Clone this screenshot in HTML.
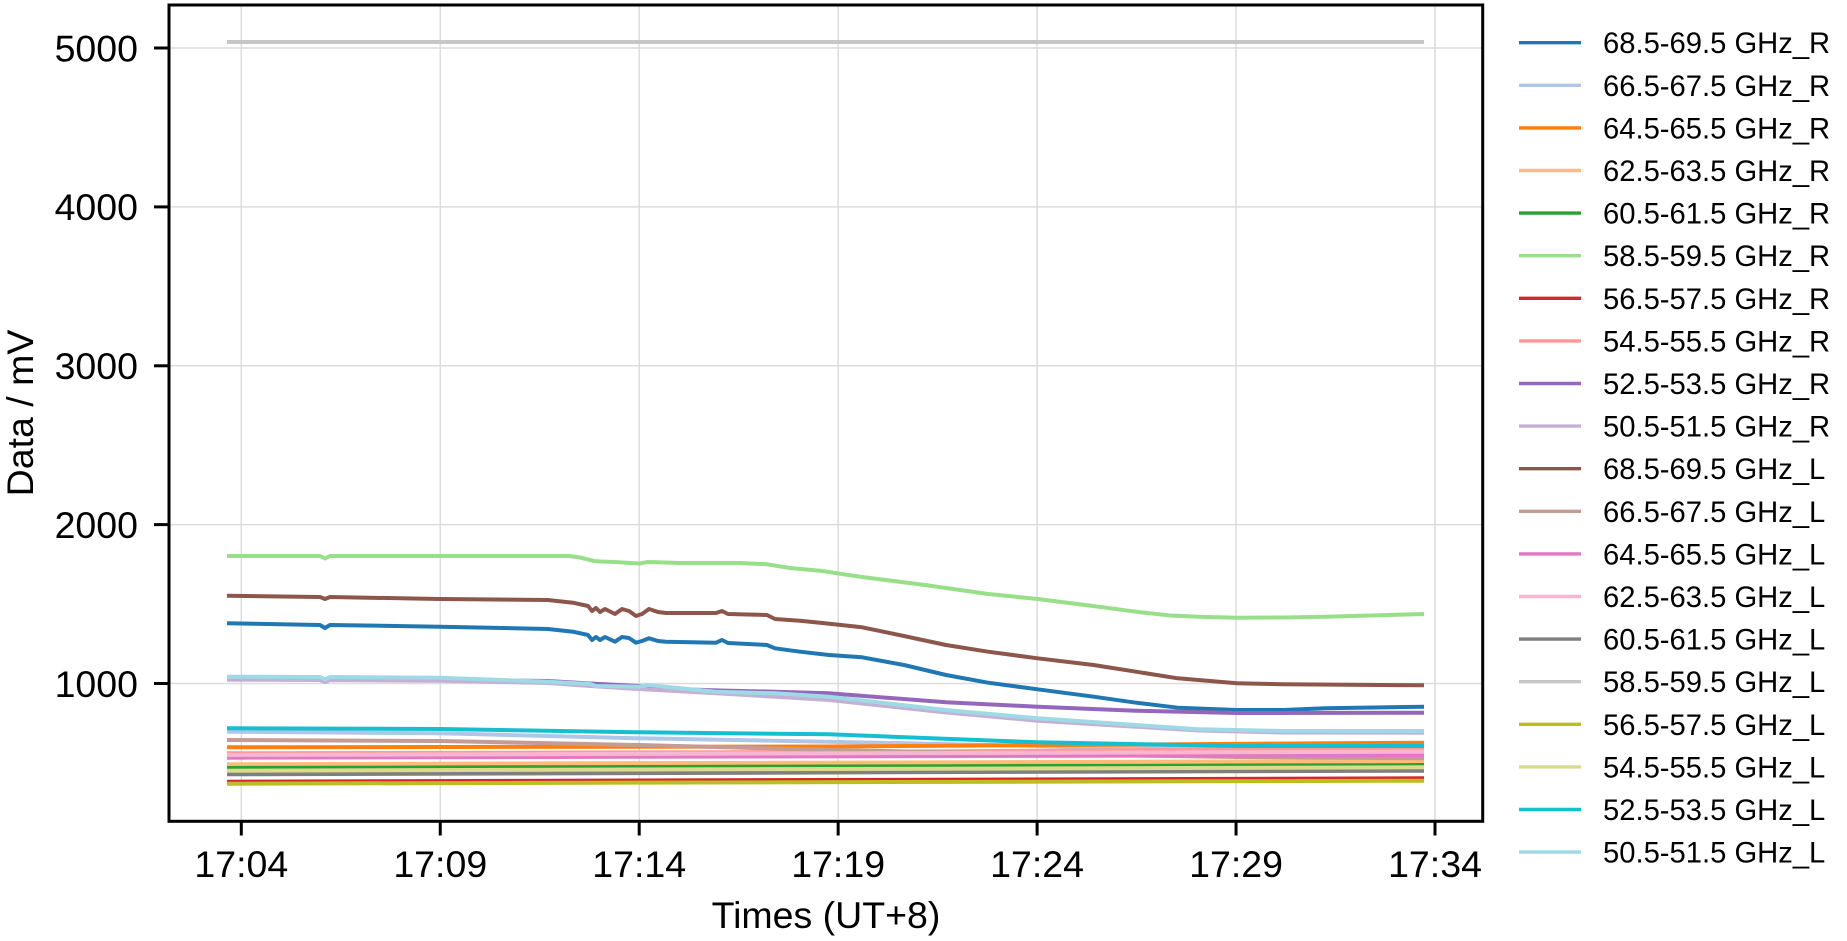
<!DOCTYPE html>
<html>
<head>
<meta charset="utf-8">
<style>
html,body{margin:0;padding:0;background:#fff;}
svg{display:block;}
text{font-family:"Liberation Sans",Arial,sans-serif;fill:#000;}
</style>
</head>
<body>
<svg width="1847" height="941" viewBox="0 0 1847 941" xmlns="http://www.w3.org/2000/svg">
<rect x="0" y="0" width="1847" height="941" fill="#fff"/>
<!-- grid -->
<g stroke="#dcdcdc" stroke-width="1.5">
<line x1="241.3" y1="5" x2="241.3" y2="821"/>
<line x1="440.25" y1="5" x2="440.25" y2="821"/>
<line x1="639.2" y1="5" x2="639.2" y2="821"/>
<line x1="838.15" y1="5" x2="838.15" y2="821"/>
<line x1="1037.1" y1="5" x2="1037.1" y2="821"/>
<line x1="1236.05" y1="5" x2="1236.05" y2="821"/>
<line x1="1435" y1="5" x2="1435" y2="821"/>
<line x1="169" y1="683.5" x2="1482.7" y2="683.5"/>
<line x1="169" y1="524.6" x2="1482.7" y2="524.6"/>
<line x1="169" y1="365.8" x2="1482.7" y2="365.8"/>
<line x1="169" y1="206.9" x2="1482.7" y2="206.9"/>
<line x1="169" y1="48" x2="1482.7" y2="48"/>
</g>
<!-- series -->
<g fill="none" stroke-width="4" stroke-linejoin="round" stroke-linecap="butt">
<polyline stroke="#1f77b4" points="227,623.3 320,625 325,628 330,625 440,626.7 548,629 573,631.7 588,635 592,640 596,637 600,640 605,637 615,641.7 622,637 629,638 636,642.7 642,641 649,638.3 658,641 666,641.7 716,642.7 722,640 728,643 767,645 775,648.3 800,651.7 829,655 862,657.3 904,665 946,675 988,682.7 1037.6,689.3 1093.6,696.7 1136,702.7 1177.7,707.7 1237,710 1283,710 1325,708.3 1424,706.7"/>
<polyline stroke="#aec7e8" points="227,731.7 440,733.3 639,738.3 829,741.7 1037.6,746 1237,749.5 1424,750"/>
<polyline stroke="#ff7f0e" points="227,747.3 829,746.5 1424,742.7"/>
<polyline stroke="#ffbb78" points="227,764.3 1424,761"/>
<polyline stroke="#2ca02c" points="227,768 1424,765"/>
<polyline stroke="#98df8a" points="227,556 320,556 325,558.5 330,556 569,556 580,557.5 594,561 600,561.5 615,562 630,563 639,563.5 648,562 680,563 716,563 740,563 767,564.3 790,568 820,570.7 862,577 925,585 988,594 1037.6,599 1093,606 1136,611.7 1170,615.5 1199,616.7 1237,617.7 1283,617.5 1325,616.7 1424,614"/>
<polyline stroke="#d62728" points="227,781.7 1424,778.3"/>
<polyline stroke="#ff9896" points="227,753.3 829,752 1424,748.3"/>
<polyline stroke="#9467bd" points="227,678.5 440,679.5 548,681 590,683.5 639,686 674,689 720,690.5 775,691.7 829,693.3 946,702.3 1037.6,706.7 1136,710.7 1237,713 1424,712.7"/>
<polyline stroke="#c5b0d5" points="227,679.7 320,680 325,682 330,680 440,680.7 548,683 590,686 639,689 716,693.3 775,696.7 829,700 946,712.5 1037.6,720.7 1136,726.7 1199,730.5 1283,732.5 1424,732.7"/>
<polyline stroke="#8c564b" points="227,595.7 320,597 325,599 330,597 440,599 548,600 573,602.7 588,606 592,611 596,608 600,612 605,609 615,614 622,609 629,611 636,616 642,614 649,609 658,612 666,613 716,613 722,611 728,614 767,615 775,619 800,620.7 820,622.7 862,627.3 904,636 946,645 988,651.7 1037.6,658.3 1093.6,665 1136,671.7 1177.7,678.3 1237,683.3 1283,684.3 1424,685.3"/>
<polyline stroke="#c49c94" points="227,740 440,741 639,745 829,750 1037.6,754 1237,757 1424,758.3"/>
<polyline stroke="#e377c2" points="227,757.7 1424,755"/>
<polyline stroke="#f7b6d2" points="227,755 1424,751.7"/>
<polyline stroke="#7f7f7f" points="227,774.3 1424,770.7"/>
<polyline stroke="#c7c7c7" points="227,42 1424,42"/>
<polyline stroke="#bcbd22" points="227,783.7 1424,780.7"/>
<polyline stroke="#dbdb8d" points="227,770.7 1424,767.3"/>
<polyline stroke="#17becf" points="227,728.3 440,729 639,732.3 829,734.3 1037.6,742.3 1237,746 1424,746"/>
<polyline stroke="#9edae5" points="227,676.7 320,677 325,679.5 330,677 440,677.7 548,681.7 590,684 596,686 639,686.7 648,685 716,691.7 775,693.3 829,696.7 946,710 1037.6,718.3 1136,725 1199,729.3 1283,731 1424,731"/>
</g>
<!-- axes box -->
<rect x="169" y="5" width="1313.7" height="816.3" fill="none" stroke="#000" stroke-width="3"/>
<!-- ticks -->
<g stroke="#000" stroke-width="3">
<line x1="154" y1="683.5" x2="169" y2="683.5"/>
<line x1="154" y1="524.6" x2="169" y2="524.6"/>
<line x1="154" y1="365.8" x2="169" y2="365.8"/>
<line x1="154" y1="206.9" x2="169" y2="206.9"/>
<line x1="154" y1="48" x2="169" y2="48"/>
<line x1="241.3" y1="821" x2="241.3" y2="835.5"/>
<line x1="440.25" y1="821" x2="440.25" y2="835.5"/>
<line x1="639.2" y1="821" x2="639.2" y2="835.5"/>
<line x1="838.15" y1="821" x2="838.15" y2="835.5"/>
<line x1="1037.1" y1="821" x2="1037.1" y2="835.5"/>
<line x1="1236.05" y1="821" x2="1236.05" y2="835.5"/>
<line x1="1435" y1="821" x2="1435" y2="835.5"/>
</g>
<!-- y tick labels -->
<g font-size="37.5" text-anchor="end">
<text x="138" y="697">1000</text>
<text x="138" y="538">2000</text>
<text x="138" y="379">3000</text>
<text x="138" y="220">4000</text>
<text x="138" y="61.5">5000</text>
</g>
<!-- x tick labels -->
<g font-size="37.5" text-anchor="middle">
<text x="241.3" y="877">17:04</text>
<text x="440.25" y="877">17:09</text>
<text x="639.2" y="877">17:14</text>
<text x="838.15" y="877">17:19</text>
<text x="1037.1" y="877">17:24</text>
<text x="1236.05" y="877">17:29</text>
<text x="1435" y="877">17:34</text>
</g>
<text x="826" y="928" font-size="37.5" text-anchor="middle">Times (UT+8)</text>
<text transform="translate(33,413) rotate(-90)" font-size="37.5" text-anchor="middle">Data / mV</text>
<!-- legend -->
<g stroke-width="3.4">
<line x1="1519" x2="1581" y1="42.7" y2="42.7" stroke="#1f77b4"/>
<line x1="1519" x2="1581" y1="85.3" y2="85.3" stroke="#aec7e8"/>
<line x1="1519" x2="1581" y1="127.9" y2="127.9" stroke="#ff7f0e"/>
<line x1="1519" x2="1581" y1="170.5" y2="170.5" stroke="#ffbb78"/>
<line x1="1519" x2="1581" y1="213.1" y2="213.1" stroke="#2ca02c"/>
<line x1="1519" x2="1581" y1="255.7" y2="255.7" stroke="#98df8a"/>
<line x1="1519" x2="1581" y1="298.3" y2="298.3" stroke="#d62728"/>
<line x1="1519" x2="1581" y1="340.9" y2="340.9" stroke="#ff9896"/>
<line x1="1519" x2="1581" y1="383.5" y2="383.5" stroke="#9467bd"/>
<line x1="1519" x2="1581" y1="426.1" y2="426.1" stroke="#c5b0d5"/>
<line x1="1519" x2="1581" y1="468.7" y2="468.7" stroke="#8c564b"/>
<line x1="1519" x2="1581" y1="511.3" y2="511.3" stroke="#c49c94"/>
<line x1="1519" x2="1581" y1="553.9" y2="553.9" stroke="#e377c2"/>
<line x1="1519" x2="1581" y1="596.5" y2="596.5" stroke="#f7b6d2"/>
<line x1="1519" x2="1581" y1="639.1" y2="639.1" stroke="#7f7f7f"/>
<line x1="1519" x2="1581" y1="681.7" y2="681.7" stroke="#c7c7c7"/>
<line x1="1519" x2="1581" y1="724.3" y2="724.3" stroke="#bcbd22"/>
<line x1="1519" x2="1581" y1="766.9" y2="766.9" stroke="#dbdb8d"/>
<line x1="1519" x2="1581" y1="809.5" y2="809.5" stroke="#17becf"/>
<line x1="1519" x2="1581" y1="852.1" y2="852.1" stroke="#9edae5"/>
</g>
<g font-size="29.2">
<text x="1603" y="53.2">68.5-69.5 GHz_R</text>
<text x="1603" y="95.8">66.5-67.5 GHz_R</text>
<text x="1603" y="138.4">64.5-65.5 GHz_R</text>
<text x="1603" y="181">62.5-63.5 GHz_R</text>
<text x="1603" y="223.6">60.5-61.5 GHz_R</text>
<text x="1603" y="266.2">58.5-59.5 GHz_R</text>
<text x="1603" y="308.8">56.5-57.5 GHz_R</text>
<text x="1603" y="351.4">54.5-55.5 GHz_R</text>
<text x="1603" y="394">52.5-53.5 GHz_R</text>
<text x="1603" y="436.6">50.5-51.5 GHz_R</text>
<text x="1603" y="479.2">68.5-69.5 GHz_L</text>
<text x="1603" y="521.8">66.5-67.5 GHz_L</text>
<text x="1603" y="564.4">64.5-65.5 GHz_L</text>
<text x="1603" y="607">62.5-63.5 GHz_L</text>
<text x="1603" y="649.6">60.5-61.5 GHz_L</text>
<text x="1603" y="692.2">58.5-59.5 GHz_L</text>
<text x="1603" y="734.8">56.5-57.5 GHz_L</text>
<text x="1603" y="777.4">54.5-55.5 GHz_L</text>
<text x="1603" y="820">52.5-53.5 GHz_L</text>
<text x="1603" y="862.6">50.5-51.5 GHz_L</text>
</g>
</svg>
</body>
</html>
